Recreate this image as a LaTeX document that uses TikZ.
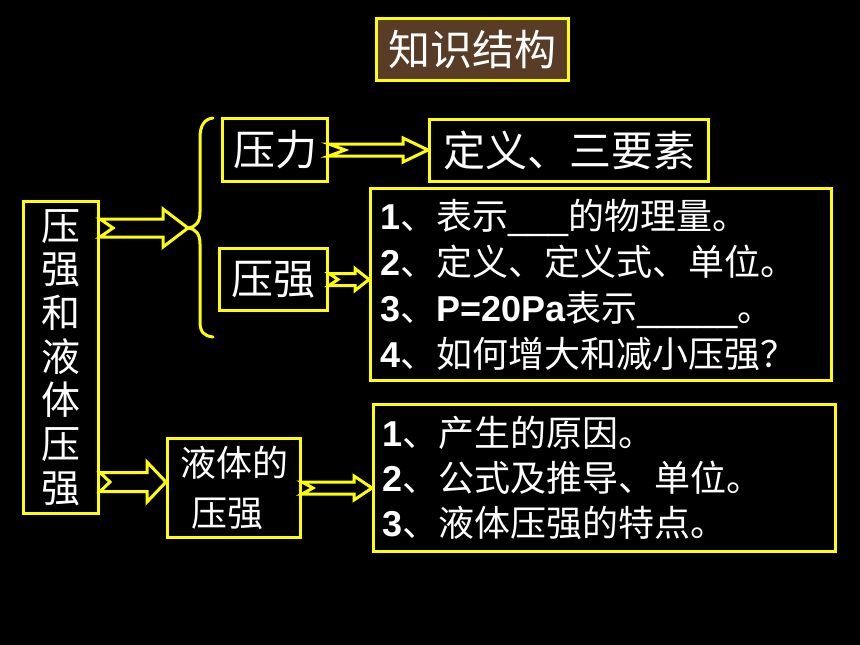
\documentclass[tikz,border=0pt]{standalone}
\usepackage{fontspec}
\setmainfont{Liberation Sans}
\newfontfamily\cjk{Noto Sans CJK SC}
\usetikzlibrary{calc}
\definecolor{ylw}{RGB}{255,255,0}
\definecolor{marble}{RGB}{88,60,38}
\tikzset{
  box/.style={draw=ylw, line width=3pt, fill=black, text=white, inner sep=0pt},
  bigtxt/.style={font=\cjk\fontsize{42}{42}\selectfont},
  arrowline/.style={draw=ylw, line width=3pt, fill=black, line join=miter},
  bracestyle/.style={draw=ylw, line width=3pt, line cap=round}
}
\newcommand\fatarrow[6]{%
  \draw[arrowline] let \p1=#1, \p2=#2 in
    (\x1,\y1+#4pt) -- (\x2-#6pt,\y1+#4pt) -- (\x2-#6pt,\y1+#5pt) -- (\x2,\y1)
    -- (\x2-#6pt,\y1-#5pt) -- (\x2-#6pt,\y1-#4pt) -- (\x1,\y1-#4pt) -- (\x1+#3pt,\y1) -- cycle;}
\begin{document}
\begin{tikzpicture}[x=1pt,y=-1pt]
\fill[black] (0,0) rectangle (860,645);
\useasboundingbox (0,0) rectangle (860,645);

\node[box, fill=marble, bigtxt, minimum width=192pt, minimum height=62pt] (title) at (472.5,49.5) {知识结构};

\node[box, minimum width=75pt, minimum height=312pt, align=center,
      font=\cjk\fontsize{39}{43.7}\selectfont] (left) at (61,357.5) {压\\强\\和\\液\\体\\压\\强};

\node[box, bigtxt, minimum width=105pt, minimum height=63pt] (yali) at (275,150) {压力};
\node[box, bigtxt, minimum width=279pt, minimum height=62pt] (ding) at (569,150.5) {定义、三要素};
\node[box, bigtxt, minimum width=108pt, minimum height=62pt] (qiang) at (273.5,279.5) {压强};

\node[box, minimum width=461pt, minimum height=192pt, text width=442pt, inner xsep=9.5pt,
      align=left, font=\fontsize{36}{46}\selectfont] (list1) at (601,284.5)
  {\textbf{1}{\cjk 、表示}\_\_\_{\cjk 的物理量。}\\
   \textbf{2}{\cjk 、定义、定义式、单位。}\\
   \textbf{3}{\cjk 、}\textbf{P=20Pa}{\cjk 表示}\_\_\_\_\_{\cjk 。}\\
   \textbf{4}{\cjk 、如何增大和减小压强？}};

\node[box, minimum width=133pt, minimum height=99pt, align=left,
      font=\cjk\fontsize{36}{50}\selectfont] (yeti) at (234,488) {液体的\\\hspace*{11pt}压强};

\node[box, minimum width=462pt, minimum height=147pt, text width=445pt, inner xsep=8.5pt,
      align=left, font=\fontsize{36}{45}\selectfont] (list2) at (604.5,478)
  {\textbf{1}{\cjk 、产生的原因。}\\
   \textbf{2}{\cjk 、公式及推导、单位。}\\
   \textbf{3}{\cjk 、液体压强的特点。}};

% brace
\coordinate (bracetip) at (188,228);
\draw[bracestyle] (213,118) .. controls (204,119) and (200,126) .. (200,138)
  -- (200,212) .. controls (200,222) and (196,227) .. (bracetip)
  .. controls (196,229) and (200,234) .. (200,244)
  -- (200,322) .. controls (200,332) and (204,336) .. (213,337);

% arrows
\coordinate (a4y) at ([yshift=6pt]yeti.west);
\fatarrow{(left.east |- bracetip)}{(bracetip)}{13}{9}{19}{25}
\fatarrow{(yali.east)}{(ding.west)}{16}{6}{12}{25}
\fatarrow{(qiang.east)}{(list1.west |- qiang.east)}{9}{6}{11}{14}
\fatarrow{(left.east |- a4y)}{(a4y)}{10}{9.5}{20}{19}
\fatarrow{(yeti.east)}{(list2.west |- yeti.east)}{11}{6}{12}{18}
\end{tikzpicture}
\end{document}
